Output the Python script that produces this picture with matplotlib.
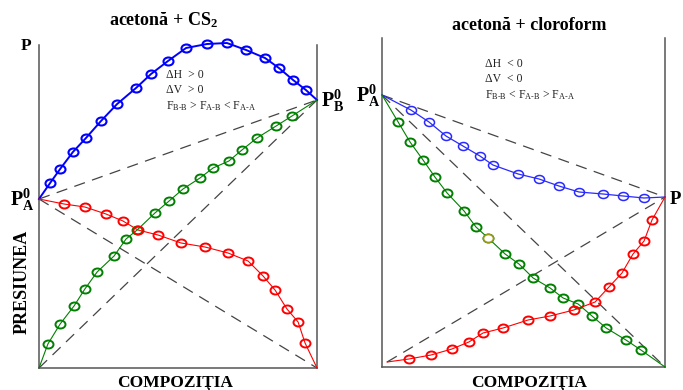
import matplotlib
matplotlib.use("Agg")
import matplotlib.pyplot as plt
from matplotlib.path import Path

plt.rcParams["font.family"] = ["Liberation Serif", "DejaVu Serif"]
plt.rcParams["mathtext.fontset"] = "custom"
plt.rcParams["mathtext.rm"] = "Liberation Serif"
plt.rcParams["mathtext.bf"] = "Liberation Serif:bold"
plt.rcParams["mathtext.it"] = "Liberation Serif:italic"

W, H = 683, 390

# ---- acetone + CS2 (positive deviation), pressure in arbitrary units ----
cs2_pa0, cs2_pb0 = 169, 268
cs2_total_x = [0.0, 0.040, 0.076, 0.122, 0.169, 0.223, 0.281, 0.349, 0.403, 0.464,
               0.529, 0.604, 0.676, 0.745, 0.813, 0.863, 0.914, 0.960, 1.0]
cs2_total_p = [169, 185, 199, 216, 230, 247, 264, 280, 294, 307,
               320, 324, 325, 318, 310, 300, 288, 278, 268]
cs2_b_x = [0.0, 0.032, 0.076, 0.126, 0.165, 0.209, 0.270, 0.313, 0.353, 0.417,
           0.468, 0.518, 0.579, 0.626, 0.683, 0.730, 0.784, 0.853, 0.910, 1.0]
cs2_b_p = [0, 24, 44, 62, 79, 96, 112, 129, 138, 155,
           167, 179, 190, 200, 207, 218, 230, 242, 252, 268]
cs2_a_x = [0.0, 0.090, 0.165, 0.241, 0.302, 0.356, 0.428, 0.511, 0.597, 0.680,
           0.752, 0.806, 0.849, 0.892, 0.932, 0.957, 1.0]
cs2_a_p = [169, 164, 161, 154, 147, 138, 133, 125, 121, 115,
           107, 92, 78, 59, 46, 25, 0]

# ---- acetone + chloroform (negative deviation) ----
chl_pa0, chl_pb0 = 272, 170
chl_total_x = [0.0, 0.102, 0.166, 0.226, 0.286, 0.346, 0.392, 0.481, 0.555, 0.625,
               0.696, 0.781, 0.852, 0.926, 1.0]
chl_total_p = [272, 257, 245, 231, 221, 211, 202, 193, 188, 181,
               175, 173, 171, 169, 170]
chl_a_x = [0.0, 0.057, 0.099, 0.145, 0.187, 0.230, 0.290, 0.332, 0.375, 0.435,
           0.484, 0.534, 0.594, 0.640, 0.693, 0.742, 0.792, 0.862, 0.915, 1.0]
chl_a_p = [272, 245, 225, 207, 190, 174, 156, 140, 129, 113,
           103, 89, 79, 69, 63, 51, 39, 27, 17, 0]
chl_b_x = [0.018, 0.095, 0.173, 0.247, 0.307, 0.357, 0.428, 0.516, 0.594, 0.678,
           0.753, 0.802, 0.848, 0.887, 0.926, 0.954, 1.0]
chl_b_p = [5, 8, 12, 18, 25, 34, 39, 47, 51, 57,
           65, 80, 94, 113, 126, 147, 170]

YMAX = 335

fig = plt.figure(figsize=(W / 100, H / 100), dpi=100)

# slightly flattened open circle used for the data points
_uc = Path.unit_circle()
oval = Path(_uc.vertices * [1.0, 0.8], _uc.codes)


def make_axes(x0, x1, ybot, top_bound):
    ax = fig.add_axes([x0 / W, 1 - ybot / H, (x1 - x0) / W, YMAX / H])
    ax.set_xlim(0, 1)
    ax.set_ylim(0, YMAX)
    ax.set_xticks([])
    ax.set_yticks([])
    ax.patch.set_alpha(0)
    ax.spines["top"].set_visible(False)
    for s in ("left", "right", "bottom"):
        ax.spines[s].set_color("#555555")
        ax.spines[s].set_linewidth(1.1)
    ax.spines["left"].set_bounds(0, top_bound)
    ax.spines["right"].set_bounds(0, top_bound)
    return ax


dash = dict(color="#444444", lw=0.9, ls=(0, (9, 6)))


def curve(ax, xs, ps, color, lw, mew, ms=7.2):
    ax.plot(xs, ps, color=color, lw=lw, marker=oval, ms=ms, mfc="none",
            mec=color, mew=mew, markevery=slice(1, len(xs) - 1),
            clip_on=False, zorder=3)


# Left panel
axL = make_axes(39, 317, 368, 323)
axL.plot([0, 1], [cs2_pa0, cs2_pb0], **dash)
axL.plot([0, 1], [cs2_pa0, 0], **dash)
axL.plot([0, 1], [0, cs2_pb0], **dash)
curve(axL, cs2_total_x, cs2_total_p, "#0000ff", 1.4, 1.5)
curve(axL, cs2_b_x, cs2_b_p, "#008000", 0.8, 1.4)
curve(axL, cs2_a_x, cs2_a_p, "#ff0000", 0.8, 1.4)

# Right panel
axR = make_axes(382, 665, 367, 329)
axR.plot([0, 1], [chl_pa0, chl_pb0], **dash)
axR.plot([0, 1], [chl_pa0, 0], **dash)
axR.plot([chl_b_x[0], 1], [chl_b_p[0], chl_pb0], **dash)
curve(axR, chl_total_x, chl_total_p, "#2a2aff", 0.9, 1.1)
curve(axR, chl_a_x, chl_a_p, "#008000", 0.8, 1.4)
curve(axR, chl_b_x, chl_b_p, "#ff0000", 0.8, 1.4)
axR.plot(chl_a_x[8], chl_a_p[8], marker=oval, ms=7.2, mfc="white", mec="#9a9a1a",
         mew=1.2, zorder=4, clip_on=False, ls="none")


def ftext(px, py, s, **kw):
    fig.text(px / W, 1 - py / H, s, **kw)


bold = dict(fontweight="bold", color="black")

# Titles
ftext(164, 20, r"acetonă + CS$_\mathbf{2}$", ha="center", va="center", fontsize=13, **bold)
ftext(529, 25, "acetonă + cloroform", ha="center", va="center", fontsize=13, **bold)

# Axis captions
ftext(26, 46, "P", ha="center", va="center", fontsize=12.5, **bold)
ftext(22, 282, "PRESIUNEA", ha="center", va="center", rotation=90, fontsize=13, **bold)
ftext(175, 383, "COMPOZIŢIA", ha="center", va="center", fontsize=12.5, **bold)
ftext(529, 383, "COMPOZIŢIA", ha="center", va="center", fontsize=12.5, **bold)

# Pure-component vapour pressures
pa0 = r"$\mathbf{P}_{\mathbf{A}}^{\mathbf{0}}$"
pb0 = r"$\mathbf{P}_{\mathbf{B}}^{\mathbf{0}}$"
ftext(10, 200, pa0, ha="left", va="center", fontsize=14.5, **bold)
ftext(321, 101, pb0, ha="left", va="center", fontsize=14.5, **bold)
ftext(356, 96, pa0, ha="left", va="center", fontsize=14.5, **bold)
ftext(670, 200, "P", ha="left", va="center", fontsize=13.5, **bold)

# Mixing properties
note = dict(ha="left", va="center", fontsize=8.5, color="#222222")
ftext(166, 75, "ΔH  > 0", **note)
ftext(166, 90, "ΔV  > 0", **note)
ftext(166, 106, r"F$_{\mathrm{B\text{-}B}}$ > F$_{\mathrm{A\text{-}B}}$ < F$_{\mathrm{A\text{-}A}}$", **note)
ftext(485, 64, "ΔH  < 0", **note)
ftext(485, 79, "ΔV  < 0", **note)
ftext(485, 95, r"F$_{\mathrm{B\text{-}B}}$ < F$_{\mathrm{A\text{-}B}}$ > F$_{\mathrm{A\text{-}A}}$", **note)

fig.savefig("out.png", dpi=100, facecolor="white")
